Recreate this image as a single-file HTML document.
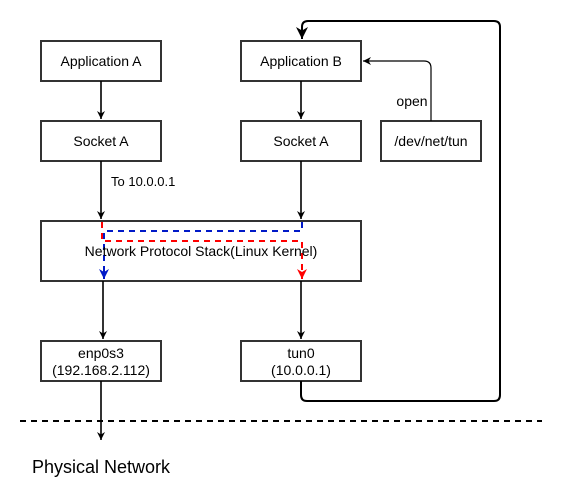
<!DOCTYPE html>
<html><head><meta charset="utf-8"><style>
html,body{margin:0;padding:0;background:#fff;}
svg{display:block;font-family:"Liberation Sans","DejaVu Sans",sans-serif;}
</style></head><body>
<svg width="562" height="502" viewBox="0 0 562 502" xmlns="http://www.w3.org/2000/svg">
<defs>
<marker id="ab" markerWidth="10" markerHeight="10" refX="8" refY="5" orient="auto" markerUnits="userSpaceOnUse"><path d="M0,1 L8,5 L0,9 L2.5,5 Z" fill="#000"/></marker>
<marker id="ab2" markerWidth="14" markerHeight="14" refX="12" refY="7" orient="auto" markerUnits="userSpaceOnUse"><path d="M0,1 L12,7 L0,13 L3.5,7 Z" fill="#000"/></marker>
<marker id="ar" markerWidth="12" markerHeight="12" refX="10" refY="6" orient="auto" markerUnits="userSpaceOnUse"><path d="M0,1 L10,6 L0,11 L3,6 Z" fill="#f00"/></marker>
<marker id="abl" markerWidth="12" markerHeight="12" refX="10" refY="6" orient="auto" markerUnits="userSpaceOnUse"><path d="M0,1 L10,6 L0,11 L3,6 Z" fill="#0019c8"/></marker>
</defs>
<g fill="#fff" stroke="#333" stroke-width="2">
<rect x="41" y="41" width="120" height="40"/>
<rect x="241" y="41" width="120" height="40"/>
<rect x="41" y="121" width="120" height="40"/>
<rect x="241" y="121" width="120" height="40"/>
<rect x="381" y="121" width="100" height="40"/>
<rect x="41" y="221" width="320" height="60"/>
<rect x="41" y="341" width="120" height="40"/>
<rect x="241" y="341" width="120" height="40"/>
</g>
<g stroke="#000" stroke-width="1.6" fill="none">
<line x1="101" y1="81" x2="101" y2="119" marker-end="url(#ab)"/>
<line x1="301" y1="81" x2="301" y2="119" marker-end="url(#ab)"/>
<line x1="101" y1="161" x2="101" y2="219" marker-end="url(#ab)"/>
<line x1="301" y1="161" x2="301" y2="219" marker-end="url(#ab)"/>
<line x1="103" y1="281" x2="103" y2="339" marker-end="url(#ab)"/>
<line x1="301" y1="281" x2="301" y2="339" marker-end="url(#ab)"/>
<line x1="101" y1="381" x2="101" y2="440" marker-end="url(#ab)"/>
<path d="M431,121 V68 Q431,61 424,61 H363" marker-end="url(#ab)" stroke-width="1.2"/>
<path d="M301,381 V395 Q301,401 307,401 H494 Q500,401 500,395 V27 Q500,21 494,21 H308 Q302,21 302,27 V39" marker-end="url(#ab2)" stroke-width="2"/>
</g>
<line x1="20" y1="421" x2="542" y2="421" stroke="#000" stroke-width="2" stroke-dasharray="6,5"/>
<path d="M102,222 V241 H302 V279" fill="none" stroke="#f00" stroke-width="2" stroke-dasharray="6,5" marker-end="url(#ar)"/>
<path d="M302,222 V231 H104 V279" fill="none" stroke="#0019c8" stroke-width="2" stroke-dasharray="6,5" marker-end="url(#abl)"/>
<g font-size="14" fill="#000" text-anchor="middle">
<text x="101" y="66">Application A</text>
<text x="301" y="66">Application B</text>
<text x="101" y="146">Socket A</text>
<text x="301" y="146">Socket A</text>
<text x="431" y="146">/dev/net/tun</text>
<text x="201" y="256">Network Protocol Stack(Linux Kernel)</text>
<text x="101" y="358">enp0s3</text>
<text x="101" y="375">(192.168.2.112)</text>
<text x="301" y="358">tun0</text>
<text x="301" y="375">(10.0.0.1)</text>
<text x="412" y="106">open</text>
</g>
<text x="111" y="186" font-size="13">To 10.0.0.1</text>
<text x="32" y="473" font-size="18">Physical Network</text>
</svg>
</body></html>
